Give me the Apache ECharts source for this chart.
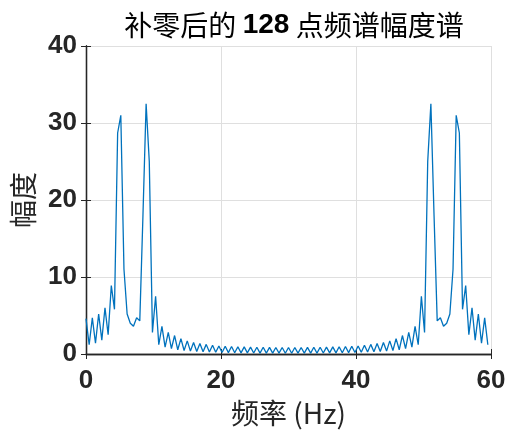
<!DOCTYPE html>
<html>
<head>
<meta charset="utf-8">
<script src="https://cdn.jsdelivr.net/npm/echarts@6/dist/echarts.min.js"></script>
<style>html,body{margin:0;padding:0;background:#fff}#c{width:510px;height:434px}</style>
</head>
<body>
<div id="c"></div>
<script>
// Data
const titleText = "补零后的 128 点频谱幅度谱";
const xName = "频率 (Hz)";
const yName = "幅度";
const fs = 60;          // sampling rate (Hz), axis spans 0..60
const nfft = 128;       // number of FFT points
const xTicks = [0, 20, 40, 60];
const yTicks = [0, 10, 20, 30, 40];
// magnitude of each FFT bin k = 0..127
const magnitude = [
  4.6, 1.2, 4.7, 1.4, 5.2, 1.8, 6.0, 2.5, 8.9, 5.8,
  28.7, 31.0, 11.0, 5.2, 4.0, 3.6, 4.7, 4.3, 18.0, 32.5,
  25.0, 2.8, 7.5, 1.2, 3.6, 0.9, 2.8, 0.7, 2.4, 0.55,
  2.0, 0.45, 1.7, 0.38, 1.5, 0.32, 1.35, 0.28, 1.25, 0.25,
  1.15, 0.22, 1.05, 0.2, 1.0, 0.18, 0.97, 0.16, 0.95, 0.15,
  0.92, 0.14, 0.9, 0.13, 0.88, 0.12, 0.87, 0.12, 0.86, 0.11,
  0.85, 0.11, 0.85, 0.1, 0.85,
  0.1, 0.85, 0.11, 0.85, 0.11, 0.86, 0.12, 0.87, 0.12, 0.88,
  0.13, 0.9, 0.14, 0.92, 0.15, 0.95, 0.16, 0.97, 0.18, 1.0,
  0.2, 1.05, 0.22, 1.15, 0.25, 1.25, 0.28, 1.35, 0.32, 1.5,
  0.38, 1.7, 0.45, 2.0, 0.55, 2.4, 0.7, 2.8, 0.9, 3.6,
  1.2, 7.5, 2.8, 25.0, 32.5, 18.0, 4.3, 4.7, 3.6, 4.0,
  5.2, 11.0, 31.0, 28.7, 5.8, 8.9, 2.5, 6.0, 1.8, 5.2,
  1.4, 4.7, 1.2
];

const points = magnitude.map((v, k) => [k * fs / nfft, v]);

const axisColor = '#262626';
const gridColor = '#dfdfdf';
const font = '"Liberation Sans", Arial, "Noto Sans CJK SC", sans-serif';
const cjk = '"Noto Sans CJK SC", sans-serif';

const chart = echarts.init(document.getElementById('c'), null, {renderer: 'canvas'});
chart.setOption({
  backgroundColor: '#ffffff',
  animation: false,
  title: {
    text: '{c|补零后的 }{b|128}{c| 点频谱幅度谱}',
    left: 289, textAlign: 'center', top: 6,
    textStyle: {
      rich: {
        c: {fontFamily: cjk, fontSize: 28, color: '#000', fontWeight: 'normal'},
        b: {fontFamily: '"Liberation Sans", Arial, sans-serif', fontSize: 28, color: '#000', fontWeight: 'bold'}
      }
    }
  },
  grid: {left: 86, right: 19, top: 46, bottom: 80, containLabel: false},
  xAxis: [{
    type: 'value', min: xTicks[0], max: xTicks[xTicks.length - 1], interval: 20,
    name: xName, nameLocation: 'middle', nameGap: 43,
    nameTextStyle: {fontFamily: cjk, fontSize: 28, color: '#262626'},
    axisLine: {show: true, lineStyle: {color: axisColor, width: 1.3}},
    axisTick: {show: true, inside: true, length: 5, lineStyle: {color: axisColor}},
    axisLabel: {fontFamily: font, fontSize: 26, fontWeight: 'bold', color: '#262626', margin: 14},
    splitLine: {show: true, lineStyle: {color: gridColor, width: 1}}
  }, {
    type: 'value', position: 'top', min: xTicks[0], max: xTicks[xTicks.length - 1], interval: 20,
    axisLine: {show: true, lineStyle: {color: axisColor, width: 1.3}},
    axisTick: {show: true, inside: true, length: 5, lineStyle: {color: axisColor}},
    axisLabel: {show: false}, splitLine: {show: false}
  }],
  yAxis: [{
    type: 'value', min: yTicks[0], max: yTicks[yTicks.length - 1], interval: 10,
    name: yName, nameLocation: 'middle', nameGap: 46, nameRotate: 90,
    nameTextStyle: {fontFamily: cjk, fontSize: 28, color: '#262626'},
    axisLine: {show: true, lineStyle: {color: axisColor, width: 1.3}},
    axisTick: {show: true, inside: true, length: 5, lineStyle: {color: axisColor}},
    axisLabel: {fontFamily: font, fontSize: 26, fontWeight: 'bold', color: '#262626', margin: 9},
    splitLine: {show: true, lineStyle: {color: gridColor, width: 1}}
  }, {
    type: 'value', position: 'right', min: yTicks[0], max: yTicks[yTicks.length - 1], interval: 10,
    axisLine: {show: true, lineStyle: {color: axisColor, width: 1.3}},
    axisTick: {show: true, inside: true, length: 5, lineStyle: {color: axisColor}},
    axisLabel: {show: false}, splitLine: {show: false}
  }],
  series: [{
    type: 'line', xAxisIndex: 0, yAxisIndex: 0,
    data: points, showSymbol: false, symbol: 'none',
    lineStyle: {color: '#0072BD', width: 1.3},
    clip: true
  }]
});
</script>
</body>
</html>
